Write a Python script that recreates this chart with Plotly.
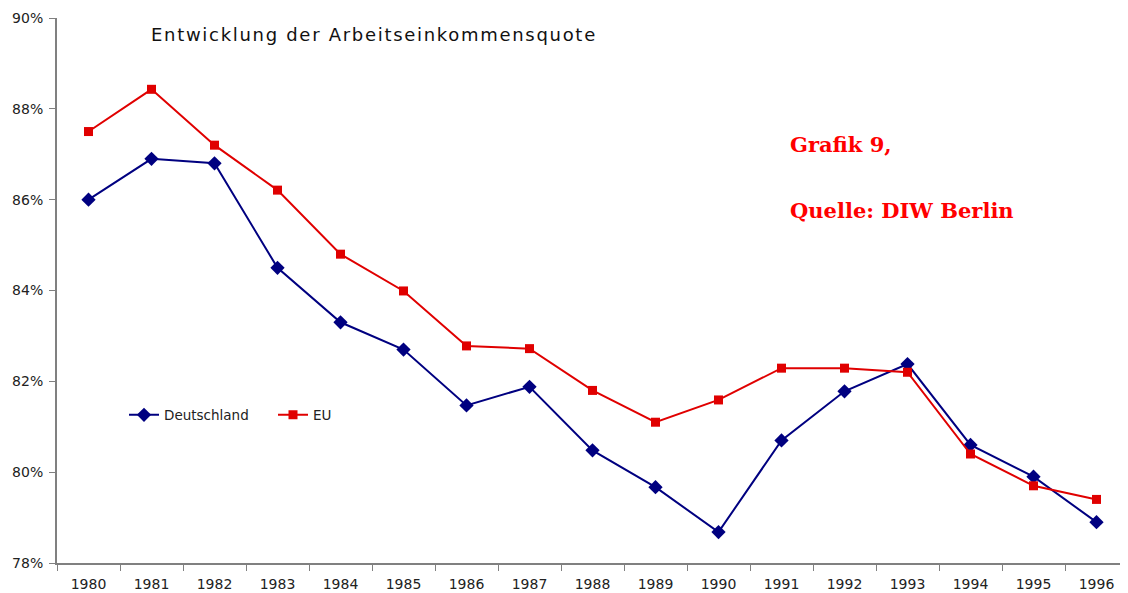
import plotly.graph_objects as go

years = [str(y) for y in range(1980, 1997)]
deutschland = [86.0, 86.9, 86.8, 84.5, 83.3, 82.7, 81.47, 81.88, 80.48, 79.67, 78.68, 80.7, 81.78, 82.38, 80.6, 79.9, 78.9]
eu = [87.5, 88.43, 87.2, 86.21, 84.8, 83.99, 82.78, 82.72, 81.8, 81.1, 81.59, 82.29, 82.29, 82.2, 80.4, 79.7, 79.4]
y_ticks = [78, 80, 82, 84, 86, 88, 90]
title_text = "Entwicklung der Arbeitseinkommensquote"
note_lines = ["Grafik 9,", "Quelle: DIW Berlin"]

# page body has an 8px margin; figure is sized/offset to compensate
W, H = 1120, 585
ML, MR, MT, MB = 49, 0, 10, 30
PW = W - ML - MR
PH = H - MT - MB


def px_x(page_x):
    return (page_x - 8 - ML) / PW


def px_y(page_y):
    return 1 - (page_y - 8 - MT) / PH


fig = go.Figure()
fig.add_trace(go.Scatter(
    x=years, y=deutschland, name="Deutschland", mode="lines+markers",
    line=dict(color="#000080", width=2),
    marker=dict(symbol="diamond", size=11, color="#000080"),
))
fig.add_trace(go.Scatter(
    x=years, y=eu, name="EU", mode="lines+markers",
    line=dict(color="#E00000", width=2),
    marker=dict(symbol="square", size=9, color="#E00000"),
))

fig.update_layout(
    width=W, height=H,
    margin=dict(l=ML, r=MR, t=MT, b=MB),
    paper_bgcolor="white", plot_bgcolor="white",
    font=dict(family="DejaVu Sans", size=14, color="#222222"),
    showlegend=True,
    legend=dict(orientation="h", x=px_x(124), y=px_y(415), xanchor="left", yanchor="middle",
                font=dict(size=13.5, color="#222222"), bgcolor="rgba(0,0,0,0)",
                entrywidth=104, entrywidthmode="pixels"),
)
fig.add_annotation(text=f"<span style='letter-spacing:1.7px'>{title_text}</span>",
                   xref="paper", yref="paper",
                   x=px_x(149), y=px_y(35), xanchor="left", yanchor="middle",
                   showarrow=False, font=dict(family="DejaVu Sans", size=18, color="#111111"))
fig.add_annotation(text=note_lines[0], xref="paper", yref="paper",
                   x=px_x(788), y=px_y(144), xanchor="left", yanchor="middle",
                   showarrow=False, font=dict(family="DejaVu Serif", size=21, color="#FF0000", weight="bold"))
fig.add_annotation(text=note_lines[1], xref="paper", yref="paper",
                   x=px_x(788), y=px_y(210), xanchor="left", yanchor="middle",
                   showarrow=False, font=dict(family="DejaVu Serif", size=21, color="#FF0000", weight="bold"))

fig.update_xaxes(
    type="category", range=[-0.5, 16.5],
    showline=True, linecolor="#808080", linewidth=2,
    ticks="outside", tickson="boundaries", ticklen=6, tickcolor="#808080", tickwidth=1,
    ticklabelstandoff=7,
    showgrid=False, zeroline=False,
    tickfont=dict(size=14, color="#222222"),
)
fig.update_yaxes(
    range=[78, 90], tickvals=y_ticks, ticktext=[f"{v}%" for v in y_ticks],
    showline=True, linecolor="#808080", linewidth=2,
    ticks="outside", ticklen=6, tickcolor="#808080", tickwidth=1,
    ticklabelstandoff=3,
    showgrid=False, zeroline=False,
    tickfont=dict(size=14, color="#222222"),
)

fig.write_html("out.html")
